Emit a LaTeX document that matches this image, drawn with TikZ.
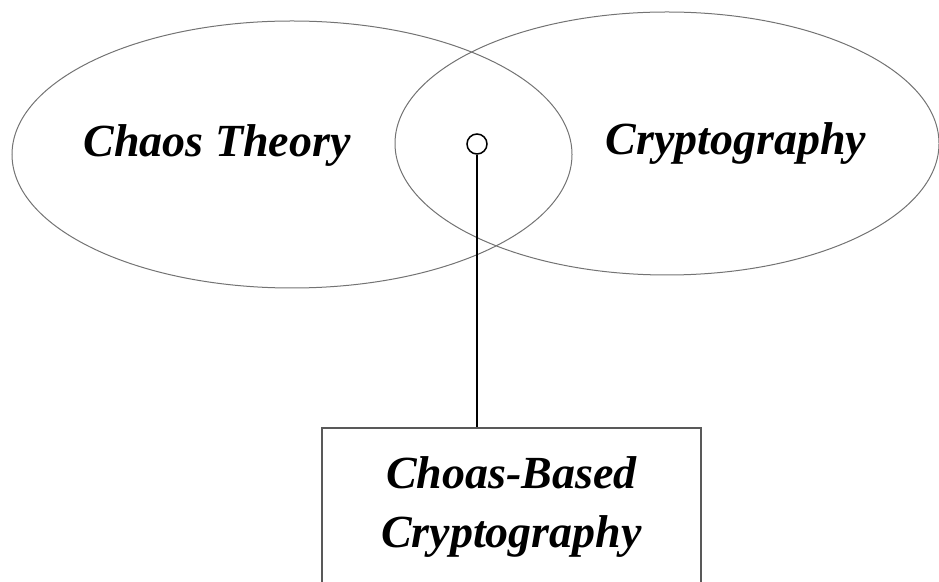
\documentclass[tikz,border=0pt]{standalone}
\usepackage{fontspec}
\setmainfont{Liberation Serif}
\usetikzlibrary{shapes.geometric}
\begin{document}
\begin{tikzpicture}[x=1pt, y=1pt,
  set/.style={draw=black!55, line width=1pt, ellipse, inner sep=0pt},
  lbl/.style={font=\fontsize{46}{59}\selectfont\bfseries\itshape}]
\useasboundingbox (0,0) rectangle (939,581);
\node[set, minimum width=560pt, minimum height=267pt] (chaos) at (292,426.5) {};
\node[set, minimum width=544pt, minimum height=263pt] (crypto) at (667,437.5) {};
\node[lbl, anchor=base] (chaoslbl) at (217,424) {Chaos Theory};
\node[lbl, anchor=base] (cryptolbl) at (736,426) {Cryptography};
\node[draw, circle, line width=1.5pt, minimum size=20pt, inner sep=0pt] (dot) at (477,437) {};
\node[lbl, draw=black!65, line width=1.3pt, rectangle, minimum width=379pt, minimum height=158pt, align=center] (cbc) at (511.5,74) {Choas-Based\\Cryptography};
\draw[line width=1.5pt] (dot.south) -- (dot.south |- cbc.north);
\end{tikzpicture}
\end{document}
